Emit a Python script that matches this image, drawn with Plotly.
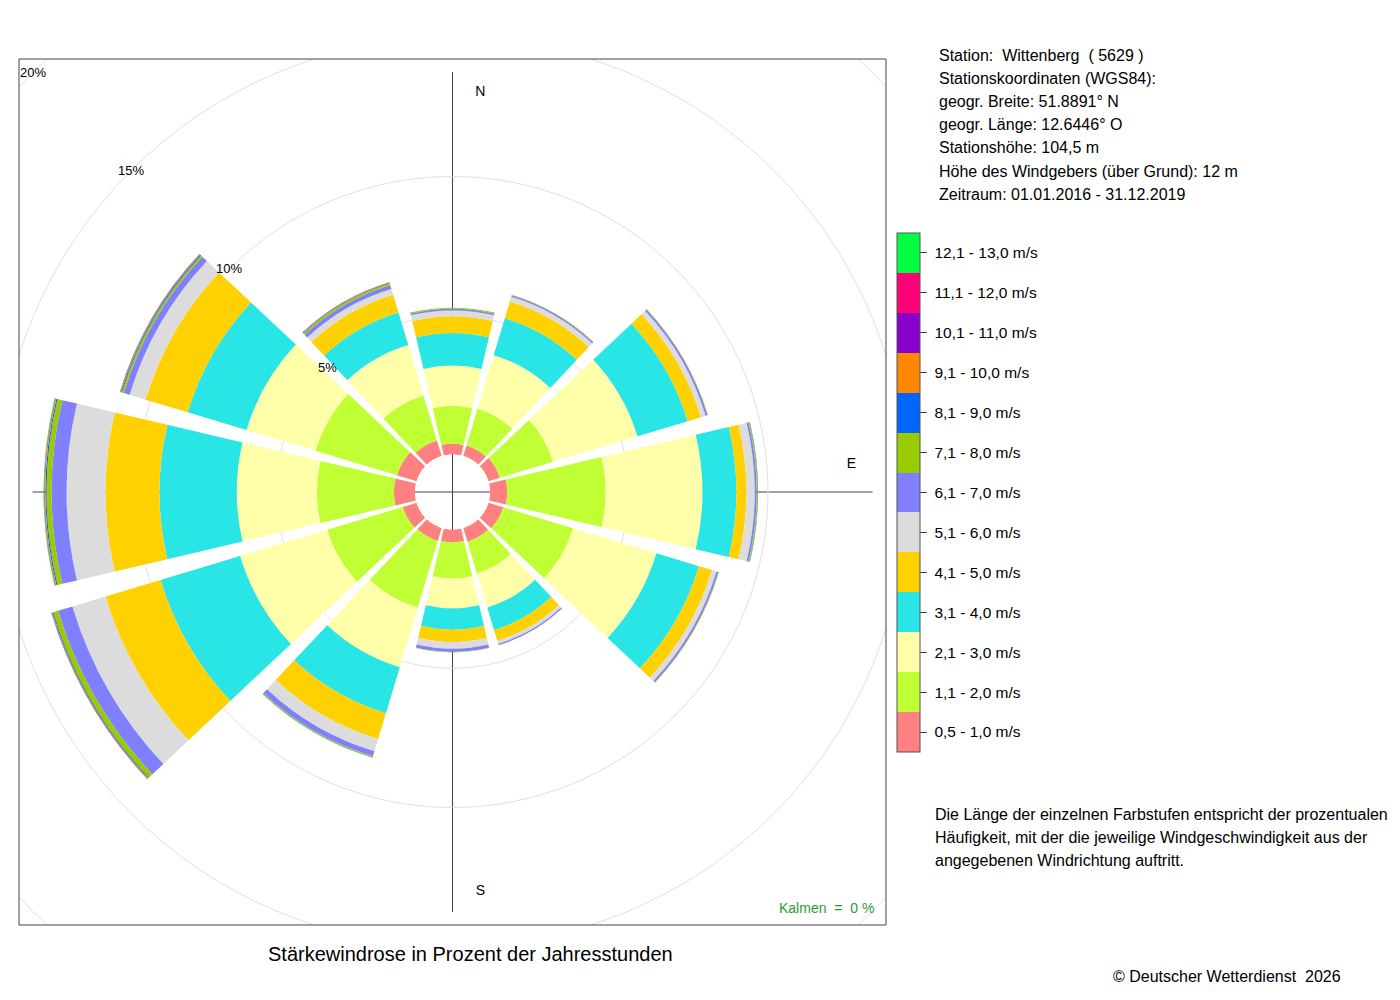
import math
import plotly.graph_objects as go

# wind directions (degrees, clockwise from north)
directions = [0, 30, 60, 90, 120, 150, 180, 210, 240, 270, 300, 330]

speed_classes = [
    "0,5 - 1,0 m/s", "1,1 - 2,0 m/s", "2,1 - 3,0 m/s", "3,1 - 4,0 m/s",
    "4,1 - 5,0 m/s", "5,1 - 6,0 m/s", "6,1 - 7,0 m/s", "7,1 - 8,0 m/s",
    "8,1 - 9,0 m/s", "9,1 - 10,0 m/s", "10,1 - 11,0 m/s", "11,1 - 12,0 m/s",
    "12,1 - 13,0 m/s",
]
class_colors = [
    "#FF8080", "#BFFF33", "#FFFFAA", "#2AE5E5", "#FFD100", "#DCDCDC",
    "#8080FF", "#99CC00", "#0066FF", "#FF8800", "#8800CC", "#FF0077",
    "#00FF40",
]

# frequency in percent of year hours, per direction (N, 30, 60, ... 330)
f_05_10 = [0.39, 0.40, 0.43, 0.62, 0.56, 0.52, 0.46, 0.49, 0.52, 0.76, 0.74, 0.59]
f_11_20 = [1.36, 1.38, 2.00, 3.54, 2.62, 1.19, 1.30, 2.51, 2.84, 2.77, 3.06, 1.69]
f_21_30 = [1.45, 2.01, 3.17, 3.48, 3.13, 1.28, 1.08, 2.23, 3.27, 2.88, 2.59, 1.89]
f_31_40 = [1.17, 1.39, 1.89, 1.22, 1.60, 0.85, 0.76, 1.73, 2.99, 2.78, 2.21, 1.22]
f_41_50 = [0.60, 0.63, 0.49, 0.36, 0.49, 0.40, 0.45, 0.97, 2.07, 1.94, 1.58, 0.67]
f_51_60 = [0.21, 0.18, 0.18, 0.30, 0.17, 0.11, 0.24, 0.46, 1.24, 1.40, 0.60, 0.22]
f_61_70 = [0.06, 0.05, 0.07, 0.07, 0.07, 0.05, 0.11, 0.19, 0.54, 0.54, 0.22, 0.14]
f_71_80 = [0.04, 0.02, 0.02, 0.04, 0.02, 0.01, 0.02, 0.04, 0.18, 0.18, 0.07, 0.07]
f_81_90 = [0.00, 0.00, 0.00, 0.01, 0.00, 0.00, 0.00, 0.01, 0.03, 0.04, 0.03, 0.02]
f_91_100 = [0.00, 0.00, 0.00, 0.00, 0.00, 0.00, 0.00, 0.00, 0.02, 0.03, 0.02, 0.01]
f_101_110 = [0.00, 0.00, 0.00, 0.00, 0.00, 0.00, 0.00, 0.00, 0.01, 0.01, 0.01, 0.01]
f_111_120 = [0.00, 0.00, 0.00, 0.00, 0.00, 0.00, 0.00, 0.00, 0.01, 0.01, 0.01, 0.00]
f_121_130 = [0.00, 0.00, 0.00, 0.00, 0.00, 0.00, 0.00, 0.00, 0.01, 0.02, 0.01, 0.00]

frequencies = [f_05_10, f_11_20, f_21_30, f_31_40, f_41_50, f_51_60, f_61_70,
               f_71_80, f_81_90, f_91_100, f_101_110, f_111_120, f_121_130]

ring_values = [5, 10, 15, 20]
compass_labels = ["N", "E", "S"]
compass_theta = [4, 86, 176]

station_lines = [
    "Station:\u00a0 Wittenberg \u00a0( 5629 )",
    "Stationskoordinaten (WGS84):",
    "geogr. Breite: 51.8891° N",
    "geogr. Länge: 12.6446° O",
    "Stationshöhe: 104,5 m",
    "Höhe des Windgebers (über Grund): 12 m",
    "Zeitraum: 01.01.2016 - 31.12.2019",
]
note_lines = [
    "Die Länge der einzelnen Farbstufen entspricht der prozentualen",
    "Häufigkeit, mit der die jeweilige Windgeschwindigkeit aus der",
    "angegebenen Windrichtung auftritt.",
]

# ---- geometry (pixels, as seen on the page) ----
W, H = 1400, 1000
OFF = 8                           # page body margin
BOX = (19, 59, 886, 925)          # left, top, right, bottom
CX, CY = (BOX[0] + BOX[2]) / 2, (BOX[1] + BOX[3]) / 2
R_PX = min(BOX[2] - BOX[0], BOX[3] - BOX[1]) / 2
HOLE_PX = 37.5
PX_PER_PCT = 27.8
R_MAX = (R_PX - HOLE_PX) / PX_PER_PCT
FONT = "Liberation Sans, Arial, Helvetica, sans-serif"


def px(x):
    return (x - OFF) / W


def py(y):
    return 1 - (y - OFF) / H


fig = go.Figure()

for name, col, vals in zip(speed_classes, class_colors, frequencies):
    fig.add_trace(go.Barpolar(
        r=vals, theta=directions, width=26.5, name=name,
        marker=dict(color=col, line=dict(width=0)),
        showlegend=False,
        hovertemplate="%{theta}°: %{r:.2f} %<extra>" + name + "</extra>",
    ))

# compass letters
fig.add_trace(go.Scatterpolar(
    r=[(400 - HOLE_PX) / PX_PER_PCT] * 3, theta=compass_theta, mode="text",
    text=compass_labels, textfont=dict(size=14, color="black", family=FONT),
    showlegend=False, hoverinfo="skip",
))

# dummy trace carrying the discrete colour legend
n = len(class_colors)
cscale = []
for i, c in enumerate(class_colors):
    cscale += [[i / n, c], [(i + 1) / n, c]]
fig.add_trace(go.Scatterpolar(
    r=[0], theta=[0], mode="markers", showlegend=False, hoverinfo="skip",
    marker=dict(
        color=[0], colorscale=cscale, cmin=0, cmax=n, opacity=0, size=1,
        showscale=True,
        colorbar=dict(
            x=px(897), xanchor="left", xpad=0,
            y=py(492.5), yanchor="middle", ypad=0,
            len=519, lenmode="pixels", thickness=23, thicknessmode="pixels",
            outlinewidth=1, outlinecolor="#555",
            tickvals=[i + 0.5 for i in range(n)],
            ticktext=["\u00a0" + s for s in speed_classes],
            ticks="outside", ticklen=7, tickcolor="#444",
            tickfont=dict(size=15.5, color="black", family=FONT),
        ),
    ),
))

shapes = []
# outer grid circles (beyond the polar area, clipped by masks)
for v in [15, 20]:
    rp = HOLE_PX + v * PX_PER_PCT
    shapes.append(dict(type="circle", xref="paper", yref="paper",
                       x0=px(CX - rp), x1=px(CX + rp), y0=py(CY + rp), y1=py(CY - rp),
                       line=dict(color="#E0E0E0", width=1), layer="below"))
# white masks outside the frame
for x0, y0, x1, y1 in [(-200, -200, BOX[0], H + 200), (BOX[2], -200, W + 200, H + 200),
                       (-200, -200, W + 200, BOX[1]), (-200, BOX[3], W + 200, H + 200)]:
    shapes.append(dict(type="rect", xref="paper", yref="paper",
                       x0=px(x0), x1=px(x1), y0=py(y1), y1=py(y0),
                       fillcolor="white", line=dict(width=0), layer="below"))
# N-S and E-W axes through the centre
shapes.append(dict(type="line", xref="paper", yref="paper",
                   x0=px(CX - 420), x1=px(CX + 420), y0=py(CY), y1=py(CY),
                   line=dict(color="#444", width=1), layer="below"))
shapes.append(dict(type="line", xref="paper", yref="paper",
                   x0=px(CX), x1=px(CX), y0=py(CY - 420), y1=py(CY + 420),
                   line=dict(color="#444", width=1), layer="below"))
# frame
shapes.append(dict(type="rect", xref="paper", yref="paper",
                   x0=px(BOX[0]), x1=px(BOX[2]), y0=py(BOX[3]), y1=py(BOX[1]),
                   line=dict(color="#444", width=1), layer="above"))

annotations = []
# ring labels along the NW diagonal
for v in ring_values:
    rp = HOLE_PX + v * PX_PER_PCT
    d = rp * math.cos(math.radians(45))
    annotations.append(dict(x=px(CX - d), y=py(CY - d), xref="paper", yref="paper",
                            text=f"{v}%", showarrow=False, xanchor="center", yanchor="middle",
                            font=dict(size=13, color="black", family=FONT)))
for i, line in enumerate(station_lines):
    annotations.append(dict(x=px(939 - 2), y=py(55 + i * 23.2), xref="paper", yref="paper",
                            text=line, showarrow=False, xanchor="left", yanchor="middle",
                            font=dict(size=16, color="black", family=FONT)))
for i, line in enumerate(note_lines):
    annotations.append(dict(x=px(935 - 2), y=py(814 + i * 23), xref="paper", yref="paper",
                            text=line, showarrow=False, xanchor="left", yanchor="middle",
                            font=dict(size=16, color="black", family=FONT)))
annotations.append(dict(x=px(874 + 2), y=py(908), xref="paper", yref="paper",
                        text="Kalmen\u00a0 =\u00a0 0 %", showarrow=False,
                        xanchor="right", yanchor="middle",
                        font=dict(size=14, color="#2E9A2E", family=FONT)))
annotations.append(dict(x=px(470), y=py(954), xref="paper", yref="paper",
                        text="Stärkewindrose in Prozent der Jahresstunden", showarrow=False,
                        xanchor="center", yanchor="middle",
                        font=dict(size=20, color="black", family=FONT)))
annotations.append(dict(x=px(1341 + 2), y=py(976), xref="paper", yref="paper",
                        text="© Deutscher Wetterdienst\u00a0 2026", showarrow=False,
                        xanchor="right", yanchor="middle",
                        font=dict(size=16, color="black", family=FONT)))

fig.update_layout(
    width=W, height=H,
    margin=dict(l=0, r=0, t=0, b=0),
    paper_bgcolor="white",
    template="none",
    font=dict(family=FONT, color="black"),
    polar=dict(
        domain=dict(x=[px(BOX[0]), px(BOX[2])], y=[py(BOX[3]), py(BOX[1])]),
        bgcolor="rgba(0,0,0,0)",
        hole=HOLE_PX / R_PX,
        barmode="stack",
        radialaxis=dict(range=[0, R_MAX], tickvals=[5, 10], showticklabels=False,
                        ticks="", showline=False, showgrid=True,
                        gridcolor="#E0E0E0", gridwidth=1, layer="below traces"),
        angularaxis=dict(rotation=90, direction="clockwise", showgrid=False,
                         showticklabels=False, ticks="", showline=False,
                         layer="below traces"),
    ),
    shapes=shapes,
    annotations=annotations,
    showlegend=False,
)

fig.write_html("out.html")
